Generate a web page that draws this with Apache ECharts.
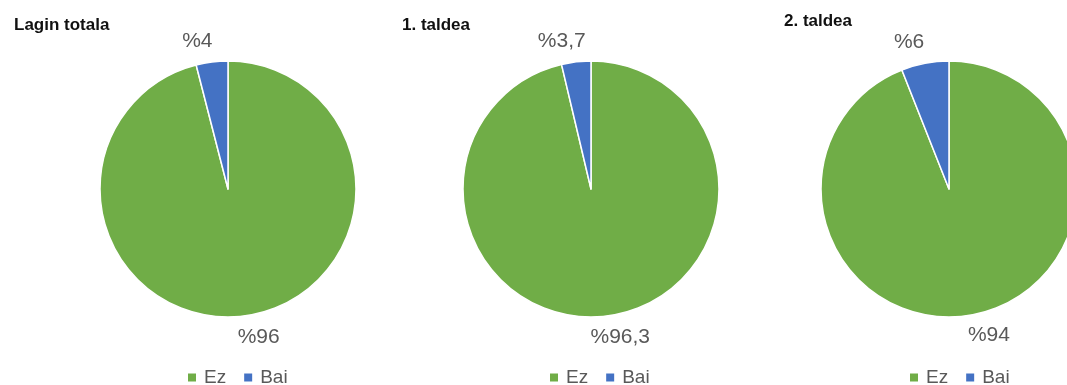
<!DOCTYPE html>
<html>
<head>
<meta charset="utf-8">
<script src="https://cdn.jsdelivr.net/npm/echarts@6/dist/echarts.min.js"></script>
<style>
  html, body { margin: 0; padding: 0; background: #ffffff; }
  #chart { width: 1067px; height: 385px; }
</style>
</head>
<body>
<div id="chart"></div>
<script>
// Group titles, answer categories and percentages per group
const groups = ['Lagin totala', '1. taldea', '2. taldea'];
const categories = ['Ez', 'Bai'];
const ezValues = [96, 96.3, 94];
const baiValues = [4, 3.7, 6];

// Layout of each pie: centre, title position, legend left edge
const pieCenters = [[228, 189], [591, 189], [949, 189]];
const titlePos = [[9, 12], [397, 12], [779, 8]];
const legendLeft = [181, 543, 903];

const colors = { Ez: '#70AD47', Bai: '#4472C4' };
const fontFamily = '"Liberation Sans", Arial, sans-serif';

function formatPct(v) {
  return '%' + String(v).replace('.', ',');
}

const chart = echarts.init(document.getElementById('chart'));

const title = groups.map((g, i) => ({
  text: g,
  left: titlePos[i][0],
  top: titlePos[i][1],
  textStyle: { fontFamily, fontSize: 17, fontWeight: 'bold', color: '#111111' }
}));

const legend = groups.map((g, i) => ({
  data: categories,
  left: legendLeft[i],
  top: 363,
  orient: 'horizontal',
  itemWidth: 10,
  itemHeight: 10,
  itemGap: 16,
  icon: 'rect',
  textStyle: { fontFamily, fontSize: 19, color: '#595959', padding: [0, 0, 0, 2] }
}));

const series = groups.map((g, i) => ({
  type: 'pie',
  name: g,
  center: pieCenters[i],
  radius: 128,
  startAngle: 90,
  clockwise: true,
  avoidLabelOverlap: false,
  silent: true,
  itemStyle: { borderColor: '#ffffff', borderWidth: 1.5 },
  label: {
    show: true,
    position: 'outside',
    distanceToLabelLine: 5,
    fontFamily,
    fontSize: 21,
    color: '#595959',
    formatter: p => formatPct(p.value)
  },
  labelLine: { show: false, length: 21, length2: 7 },
  labelLayout: { align: 'center' },
  data: [
    { name: categories[0], value: ezValues[i], itemStyle: { color: colors.Ez } },
    { name: categories[1], value: baiValues[i], itemStyle: { color: colors.Bai } }
  ]
}));

chart.setOption({
  animation: false,
  backgroundColor: '#ffffff',
  color: [colors.Ez, colors.Bai],
  title,
  legend,
  series
});
</script>
</body>
</html>
